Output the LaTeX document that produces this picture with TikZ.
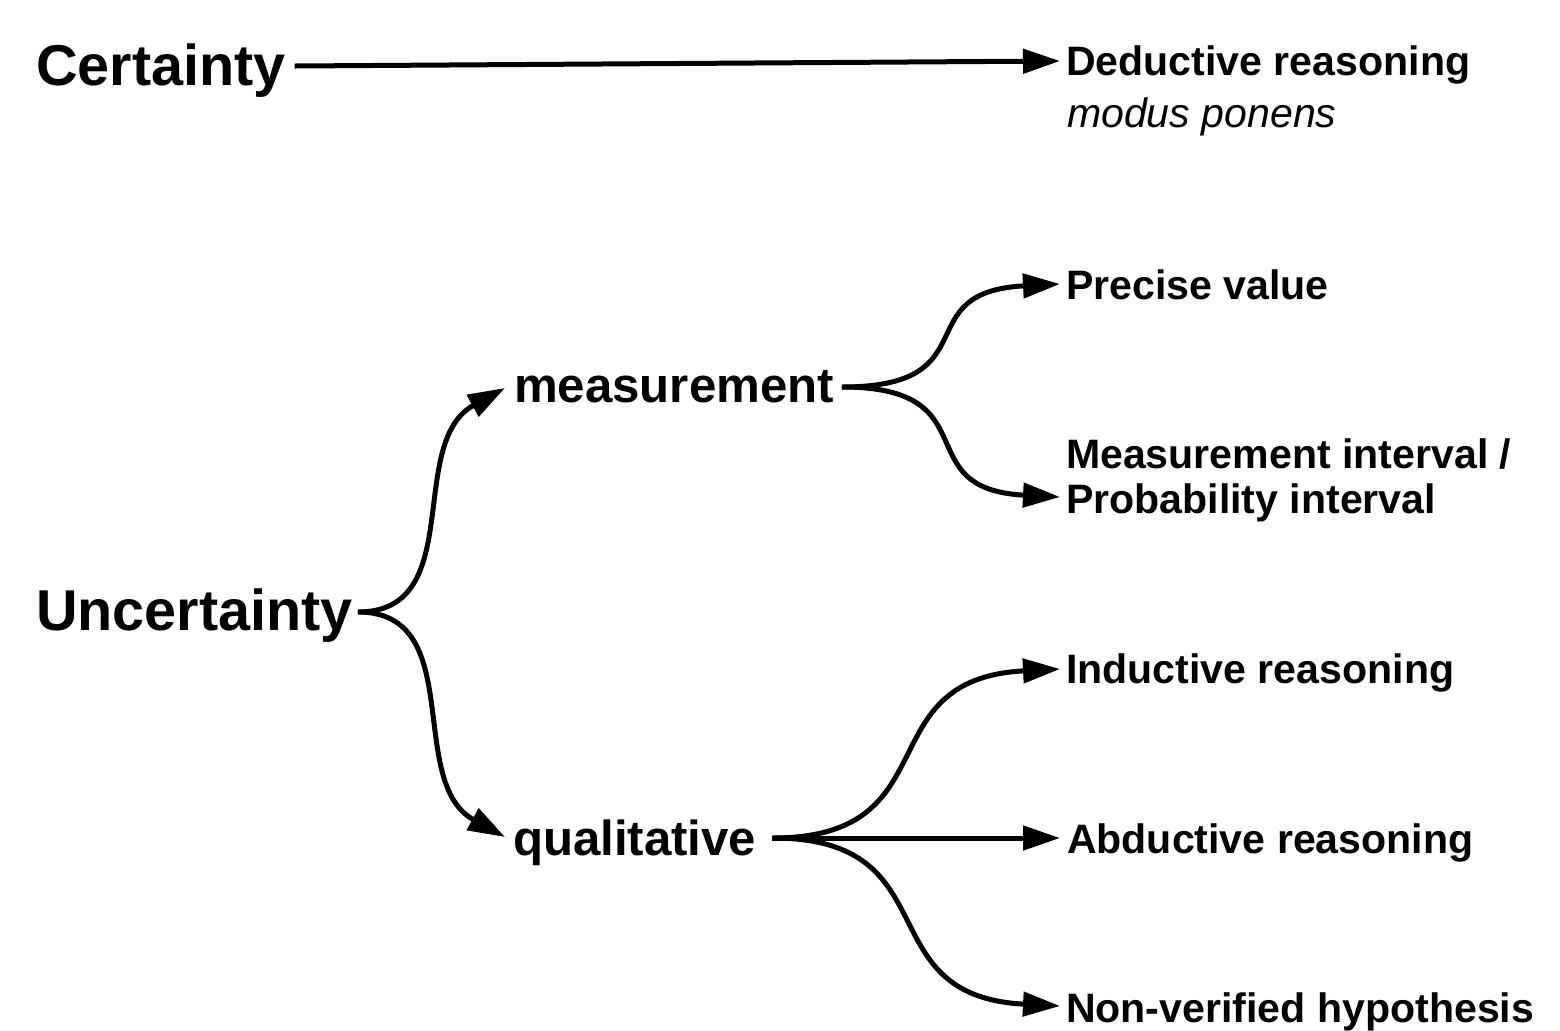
\documentclass[tikz,border=0pt]{standalone}
\usepackage{fontspec}
\setmainfont{Liberation Sans}
\usetikzlibrary{arrows.meta,calc}
\begin{document}
\begin{tikzpicture}[x=0.5pt,y=-0.5pt,
  lbl/.style={anchor=base west, inner sep=0pt, outer sep=0pt, font=\bfseries\fontsize{20.55}{22.5}\selectfont},
  midlbl/.style={lbl, font=\bfseries\fontsize{24.6}{28}\selectfont},
  biglbl/.style={lbl, font=\bfseries\fontsize{28.8}{32}\selectfont},
  conn/.style={line width=2.5pt, -{Triangle[length=18.5pt,width=12pt]}},
]
\useasboundingbox (0,0) rectangle (1560,1030);

\node[biglbl] (cert) at (36,85) {Certainty};
\node[lbl] (ded) at (1066,75) {Deductive reasoning};
\node[lbl, font=\itshape\fontsize{20.55}{22.5}\selectfont] (mp) at (1067,127) {modus ponens};
\node[biglbl] (unc) at (36,630) {Uncertainty};
\node[midlbl] (meas) at (514,402) {measurement};
\node[midlbl] (qual) at (513,855) {qualitative};
\node[lbl] (prec) at (1066,299) {Precise value};
\node[lbl] (mi) at (1066,513) {\begin{tabular}[b]{@{}l@{}}Measurement interval /\\Probability interval\end{tabular}};
\node[lbl] (ind) at (1066,683) {Inductive reasoning};
\node[lbl] (abd) at (1067,853) {Abductive reasoning};
\node[lbl] (nvh) at (1066,1022) {Non-verified hypothesis};

\draw[conn] ($(cert.base east)+(9,-19)$) -- ($(ded.base west)+(-6,-14)$);

\draw[conn] ($(unc.base east)+(5,-18)$) .. controls +(110,0) and +(-100,55) .. ($(meas.base west)+(-9,-14)$);
\draw[conn] ($(unc.base east)+(5,-18)$) .. controls +(110,0) and +(-100,-55) .. ($(qual.base west)+(-8,-18)$);

\draw[conn] ($(meas.base east)+(8,-15)$) .. controls +(150,0) and +(-155,8) .. ($(prec.base west)+(-6,-15)$);
\draw[conn] ($(meas.base east)+(8,-15)$) .. controls +(150,0) and +(-155,-8) .. ($(mi.base west)+(-6,-16)$);

\draw[conn] ($(qual.base east)+(16,-17)$) .. controls +(180,0) and +(-195,10) .. ($(ind.base west)+(-6,-14)$);
\draw[conn] ($(qual.base east)+(16,-17)$) -- ($(abd.base west)+(-7,-15)$);
\draw[conn] ($(qual.base east)+(16,-17)$) .. controls +(180,0) and +(-195,-10) .. ($(nvh.base west)+(-6,-16)$);
\end{tikzpicture}
\end{document}
